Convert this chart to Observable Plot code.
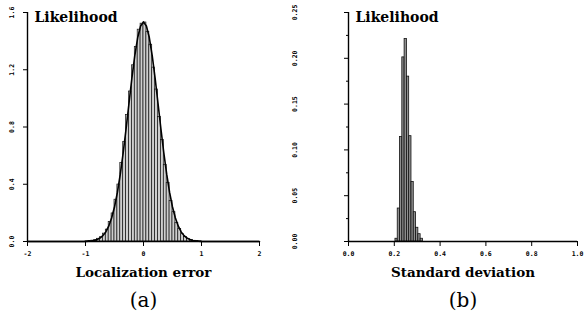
<!DOCTYPE html>
<html><head><meta charset="utf-8">
<script src="https://cdn.jsdelivr.net/npm/d3@7"></script>
<script src="https://cdn.jsdelivr.net/npm/@observablehq/plot@0.6"></script>
<style>
body{margin:0;background:#fff;}
#wrap{position:relative;width:586px;height:320px;overflow:hidden;}
#a{position:absolute;left:0;top:0;}
#b{position:absolute;left:290px;top:0;}
</style></head><body><div id="wrap"><div id="a"></div><div id="b"></div></div>
<script>
// ---- Panel (a): localization error ----
const errBinWidth = 0.05;
const errEdges = [-1.00,-0.95,-0.90,-0.85,-0.80,-0.75,-0.70,-0.65,-0.60,-0.55,-0.50,-0.45,-0.40,-0.35,-0.30,-0.25,-0.20,-0.15,-0.10,-0.05,
                   0.00, 0.05, 0.10, 0.15, 0.20, 0.25, 0.30, 0.35, 0.40, 0.45, 0.50, 0.55, 0.60, 0.65, 0.70, 0.75, 0.80, 0.85, 0.90, 0.95];
const errLik = [0.001,0.003,0.006,0.010,0.019,0.030,0.055,0.083,0.136,0.196,0.292,0.398,0.548,0.695,0.884,1.048,1.231,1.358,1.480,1.522,
                1.530,1.465,1.375,1.215,1.062,0.870,0.710,0.536,0.410,0.284,0.205,0.130,0.088,0.051,0.032,0.017,0.011,0.005,0.003,0.001];
const curveX = [-2.00,-1.00,-0.95,-0.90,-0.85,-0.80,-0.75,-0.70,-0.65,-0.60,-0.55,-0.50,-0.45,-0.40,-0.35,-0.30,-0.25,-0.20,-0.15,-0.10,-0.05,
                 0.00, 0.05, 0.10, 0.15, 0.20, 0.25, 0.30, 0.35, 0.40, 0.45, 0.50, 0.55, 0.60, 0.65, 0.70, 0.75, 0.80, 0.85, 0.90, 0.95, 1.00, 2.00];
const curveY = [0,0.001,0.002,0.004,0.007,0.013,0.024,0.041,0.067,0.107,0.164,0.241,0.343,0.470,0.620,0.788,0.966,1.141,1.299,1.425,1.506,
                1.534,1.506,1.425,1.299,1.141,0.966,0.788,0.620,0.470,0.343,0.241,0.164,0.107,0.067,0.041,0.024,0.013,0.007,0.004,0.002,0.001,0];
const errXTicks = [-2,-1,0,1,2];
const errYTicks = [0,0.4,0.8,1.2,1.6];

// ---- Panel (b): standard deviation ----
const sdBinWidth = 0.01;
const sdEdges = [0.205,0.215,0.225,0.235,0.245,0.255,0.265,0.275,0.285,0.295,0.305,0.315];
const sdLik   = [0.003,0.036,0.114,0.201,0.221,0.180,0.115,0.065,0.032,0.015,0.008,0.003];
const sdXTicks = [0,0.2,0.4,0.6,0.8,1.0];
const sdYTicks = [0,0.05,0.10,0.15,0.20,0.25];
const sdYMinor = [0.025,0.075,0.125,0.175,0.225];

const yLabel = "Likelihood";
const xLabelA = "Localization error";
const xLabelB = "Standard deviation";
const panelA = "(a)";
const panelB = "(b)";

const serif = "'DejaVu Serif', serif";
const mono = "'DejaVu Sans Mono', monospace";
const tickFont = {fontSize: 6.5, fontWeight: "bold", fontFamily: mono};
const fmtSigned = d => (d < 0 ? "-" + Math.abs(d) : String(d));

const binsA = errEdges.map((e, i) => ({x1: e, x2: e + errBinWidth, y: errLik[i]}));
const curveA = curveX.map((x, i) => ({x, y: curveY[i]}));
const binsB = sdEdges.map((e, i) => ({x1: e, x2: e + sdBinWidth, y: sdLik[i]}));

function panel({width, marginLeft, marginRight, xDomain, yDomain, bins, fill, barStroke, curve, xTicks, xFmt, yTicks, yFmt, yMinor, yLabelDx, xLabel, panelLabel}) {
  const marks = [
    Plot.rectY(bins, {x1: "x1", x2: "x2", y: "y", fill, stroke: "#111", strokeWidth: barStroke}),
  ];
  if (curve) marks.push(Plot.line(curve, {x: "x", y: "y", stroke: "black", strokeWidth: 1.6}));
  marks.push(
    Plot.ruleY([yDomain[0]], {stroke: "black", strokeWidth: 1.4}),
    Plot.ruleX([xDomain[0]], {y1: yDomain[0], y2: yDomain[1], stroke: "black", strokeWidth: 1.4}),
    Plot.axisX({ticks: xTicks, tickSize: 5, tickPadding: 5, tickFormat: xFmt, label: null, ...tickFont}),
    Plot.axisY({ticks: yTicks, tickSize: 4, tickFormat: () => "", label: null}),
    Plot.text(yTicks, {y: d => d, text: yFmt, frameAnchor: "left", dx: yLabelDx, rotate: -90,
      textAnchor: "middle", lineAnchor: "middle", ...tickFont}),
    Plot.text([yLabel], {frameAnchor: "top-left", dx: 7, textAnchor: "start", lineAnchor: "top",
      fontSize: 14, fontWeight: "bold", fontFamily: serif}),
    Plot.text([xLabel], {frameAnchor: "bottom", dy: 31, lineAnchor: "middle",
      fontSize: 13.5, fontWeight: "bold", fontFamily: serif}),
    Plot.text([panelLabel], {frameAnchor: "bottom", dy: 59, lineAnchor: "middle",
      fontSize: 20, fontFamily: serif})
  );
  if (yMinor) marks.push(Plot.axisY({ticks: yMinor, tickSize: 2, tickFormat: () => "", label: null}));
  return Plot.plot({
    width, height: 320,
    marginLeft, marginRight, marginTop: 12, marginBottom: 79,
    x: {domain: xDomain},
    y: {domain: yDomain},
    style: {background: "white", color: "black"},
    marks
  });
}

document.getElementById("a").appendChild(panel({
  width: 290, marginLeft: 27, marginRight: 31,
  xDomain: [-2, 2], yDomain: [0, 1.6],
  bins: binsA, fill: "#cfcfcf", barStroke: 0.7, curve: curveA,
  xTicks: errXTicks, xFmt: fmtSigned,
  yTicks: errYTicks, yFmt: d => d.toFixed(1), yMinor: null, yLabelDx: -16,
  xLabel: xLabelA, panelLabel: panelA
}));

document.getElementById("b").appendChild(panel({
  width: 296, marginLeft: 58, marginRight: 9,
  xDomain: [0, 1], yDomain: [0, 0.25],
  bins: binsB, fill: "#8f8f8f", barStroke: 0.8, curve: null,
  xTicks: sdXTicks, xFmt: d => d.toFixed(1),
  yTicks: sdYTicks, yFmt: d => d.toFixed(2), yMinor: sdYMinor, yLabelDx: -54,
  xLabel: xLabelB, panelLabel: panelB
}));
</script></body></html>
